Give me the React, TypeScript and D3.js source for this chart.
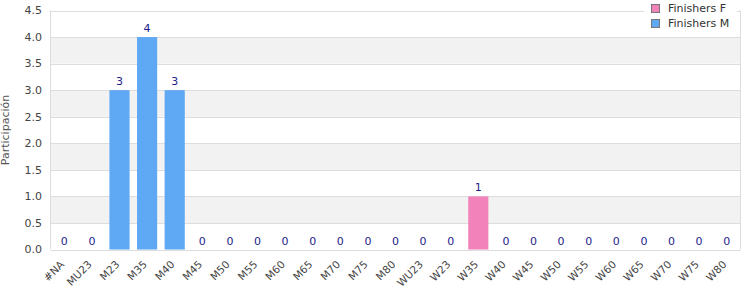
import React from "react";
import * as d3 from "d3";

const categories = ["#NA","MU23","M23","M35","M40","M45","M50","M55","M60","M65","M70","M75","M80","WU23","W23","W35","W40","W45","W50","W55","W60","W65","W70","W75","W80"];
const finishersF = [0,0,0,0,0,0,0,0,0,0,0,0,0,0,0,1,0,0,0,0,0,0,0,0,0];
const finishersM = [0,0,3,4,3,0,0,0,0,0,0,0,0,0,0,0,0,0,0,0,0,0,0,0,0];
const yTicks = [0,0.5,1,1.5,2,2.5,3,3.5,4,4.5];
const seriesNames = ["Finishers F","Finishers M"];
const colors = ["#f282ba","#5fa8f3"];

export default function App() {
  const W = 750, H = 300;
  const left = 50.5, right = 740.5, top = 10.5, bottom = 249.5;
  const x = d3.scaleBand<string>().domain(categories).range([left, right]).paddingInner(0.27).paddingOuter(0.135);
  const y = d3.scaleLinear().domain([0, 4.5]).range([bottom, top]);
  const font = "DejaVu Sans, sans-serif";
  const bands = [] as number[];
  for (let i = 0; i + 1 < yTicks.length; i++) if (i % 2 === 1) bands.push(i);
  return (
    <svg width={W} height={H} style={{ position: "absolute", left: 0, top: 0 }} fontFamily={font}>
      <rect x={0} y={0} width={W} height={H} fill="#fff" />
      {bands.map(i => (
        <rect key={"b" + i} x={left} y={y(yTicks[i + 1])} width={right - left} height={y(yTicks[i]) - y(yTicks[i + 1])} fill="#f2f2f2" />
      ))}
      {yTicks.map(t => (
        <line key={"g" + t} x1={left} x2={right} y1={Math.round(y(t)) + 0.5} y2={Math.round(y(t)) + 0.5} stroke="#dddddd" />
      ))}
      <line x1={left} x2={left} y1={top} y2={bottom} stroke="#dddddd" />
      <line x1={right} x2={right} y1={top} y2={bottom} stroke="#dddddd" />
      {yTicks.map(t => (
        <text key={"yt" + t} x={42} y={y(t)} dy="0.35em" textAnchor="end" fontSize={11} fill="#444">{t.toFixed(1)}</text>
      ))}
      <text transform={`translate(5,${(top + bottom) / 2}) rotate(-90)`} textAnchor="middle" fontSize={11} fill="#555" dy="0.35em">Participación</text>
      {categories.map((c, i) => {
        const cx = (x(c) as number) + x.bandwidth() / 2;
        const vals = [finishersF[i], finishersM[i]];
        const total = vals[0] + vals[1];
        return (
          <g key={c}>
            {vals.map((v, s) => v > 0 ? (
              <rect key={s} x={x(c)} y={y(v)} width={x.bandwidth()} height={y(0) - y(v)} fill={colors[s]} />
            ) : null)}
            <text x={cx} y={y(total) - 5} textAnchor="middle" fontSize={11} fill="#1d1d8a">{total}</text>
            <text transform={`translate(${cx - 2},${bottom + 13}) rotate(-45)`} textAnchor="end" fontSize={10.5} fill="#444" dy="0.35em">{c}</text>
          </g>
        );
      })}
      <rect x={644} y={0} width={93} height={34} fill="#fff" />
      {seriesNames.map((n, i) => (
        <g key={n} transform={`translate(651,${4 + i * 15})`}>
          <rect x={0.5} y={0.5} width={8} height={8} fill={colors[i]} stroke="#777" />
          <text x={17} y={4.5} dy="0.35em" fontSize={11} fill="#333">{n}</text>
        </g>
      ))}
    </svg>
  );
}
